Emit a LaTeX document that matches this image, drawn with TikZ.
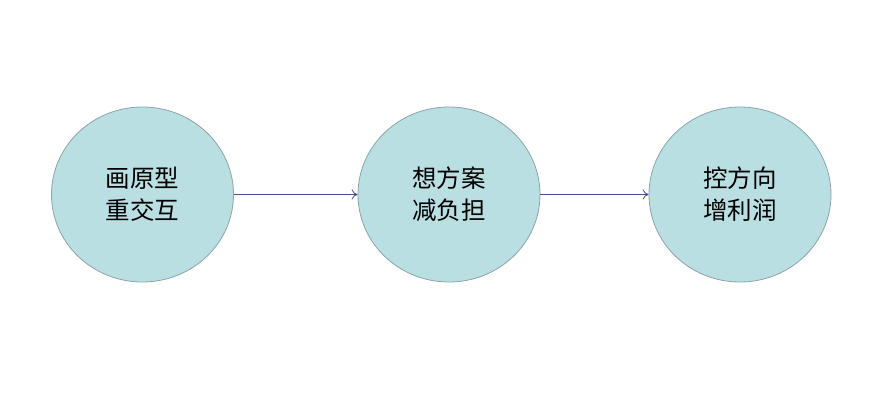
\documentclass[tikz,border=0pt]{standalone}
\usepackage{fontspec}
\newfontfamily\cjk{Noto Sans CJK SC}
\usetikzlibrary{arrows.meta,shapes.geometric}
\definecolor{fillc}{HTML}{B9DFE3}
\definecolor{edgec}{HTML}{8AA4A7}
\definecolor{arrc}{HTML}{4A4AA0}
\begin{document}
\begin{tikzpicture}[x=1pt,y=-1pt,
  bubble/.style={ellipse, draw=edgec, fill=fillc, line width=0.8pt, minimum width=182pt, minimum height=175pt, inner sep=0pt, font=\cjk\fontsize{24.5}{32}\selectfont, align=center, text=black},
  link/.style={draw=arrc, line width=0.8pt, -{To[length=6pt,width=10pt]}}]
\useasboundingbox (0,0) rectangle (891,414);
\node[bubble] (a) at (142.5,194.5) {画原型\\重交互};
\node[bubble] (b) at (449,194.5) {想方案\\减负担};
\node[bubble] (c) at (740,194.5) {控方向\\增利润};
\draw[link] (a) -- (b);
\draw[link] (b) -- (c);
\end{tikzpicture}
\end{document}
